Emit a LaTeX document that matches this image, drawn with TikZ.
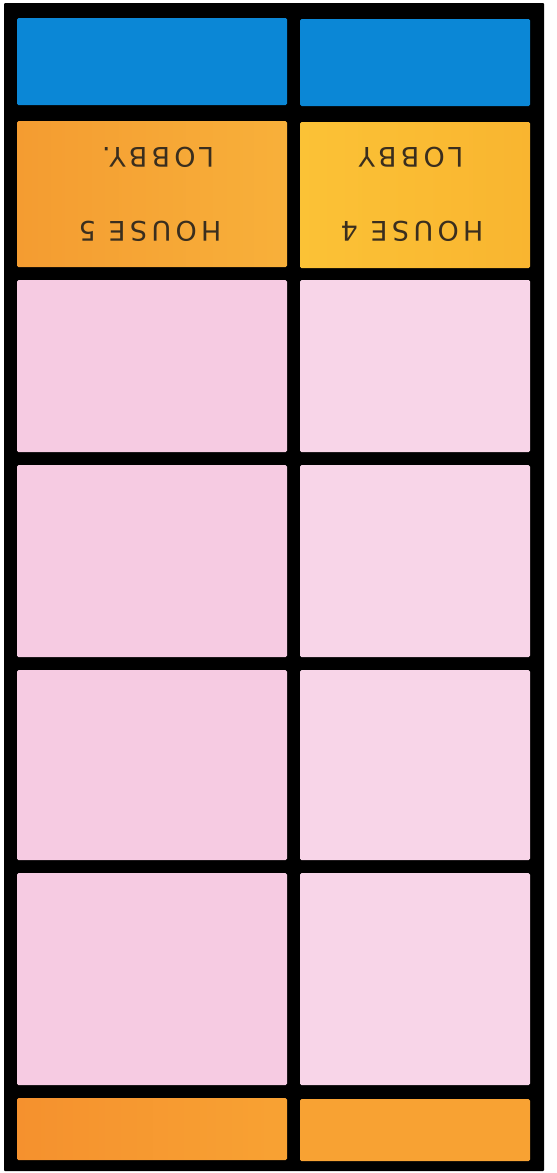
\documentclass[tikz,border=0pt]{standalone}
\usepackage{fontspec}
\newfontfamily\handfont[LetterSpace=16]{DejaVu Sans}
\definecolor{skyblue}{HTML}{0B87D6}
\definecolor{lobbyA}{HTML}{F49C31}
\definecolor{lobbyB}{HTML}{F8B03A}
\definecolor{lobbyC}{HTML}{FBC236}
\definecolor{lobbyD}{HTML}{F9B530}
\definecolor{pinkL}{HTML}{F6CBE2}
\definecolor{pinkR}{HTML}{F8D5E8}
\definecolor{orangeA}{HTML}{F5912E}
\definecolor{orangeB}{HTML}{F8A233}
\definecolor{inktext}{HTML}{3A2E1E}
\tikzset{
  cell/.style={rectangle, rounded corners=1.5pt, inner sep=0pt, draw=none},
  lefttcol/.style={minimum width=270pt},
  rightcol/.style={minimum width=230pt},
  label/.style={font=\handfont\fontsize{27}{31}\selectfont, text=inktext, rotate=180, inner sep=0pt}
}
\begin{document}
\begin{tikzpicture}[x=1pt,y=-1pt]
\useasboundingbox (0,0) rectangle (557,1173);
\fill[black, rounded corners=1pt] (4,3) rectangle (544,1171);
% blue row
\node[cell, lefttcol, minimum height=87pt, fill=skyblue] (bL) at (152,61.5) {};
\node[cell, rightcol, minimum height=87pt, fill=skyblue] (bR) at (415,62.5) {};
% lobby row
\node[cell, lefttcol, minimum height=146pt, left color=lobbyA, right color=lobbyB] (lL) at (152,194) {};
\node[cell, rightcol, minimum height=146pt, left color=lobbyC, right color=lobbyD] (lR) at (415,195) {};
% pink rows
\node[cell, lefttcol, minimum height=172pt, fill=pinkL] (p1L) at (152,366) {};
\node[cell, rightcol, minimum height=172pt, fill=pinkR] (p1R) at (415,366) {};
\node[cell, lefttcol, minimum height=192pt, fill=pinkL] (p2L) at (152,561) {};
\node[cell, rightcol, minimum height=192pt, fill=pinkR] (p2R) at (415,561) {};
\node[cell, lefttcol, minimum height=190pt, fill=pinkL] (p3L) at (152,765) {};
\node[cell, rightcol, minimum height=190pt, fill=pinkR] (p3R) at (415,765) {};
\node[cell, lefttcol, minimum height=212pt, fill=pinkL] (p4L) at (152,979) {};
\node[cell, rightcol, minimum height=212pt, fill=pinkR] (p4R) at (415,979) {};
% bottom orange row
\node[cell, lefttcol, minimum height=62pt, left color=orangeA, right color=orangeB] (oL) at (152,1129) {};
\node[cell, rightcol, minimum height=62pt, fill=orangeB] (oR) at (415,1130) {};
% texts (upside down)
\node[label] (t5a) at (150,231) {HOUSE 5};
\node[label] (t5b) at (158,157) {LOBBY.};
\node[label] (t4a) at (412,231) {HOUSE 4};
\node[label] (t4b) at (411,157) {LOBBY};
\end{tikzpicture}
\end{document}
